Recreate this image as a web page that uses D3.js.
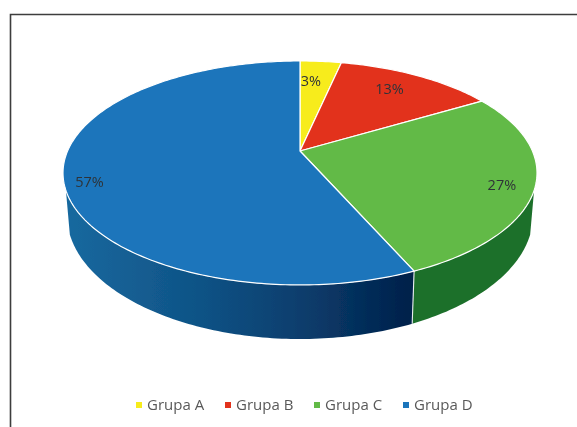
<!DOCTYPE html>
<html>
<head>
<meta charset="utf-8">
<script src="https://cdn.jsdelivr.net/npm/d3@7/dist/d3.min.js"></script>
<style>
html,body{margin:0;padding:0;background:#fff;overflow:hidden}
svg{display:block}
text{font-family:"Open Sans",sans-serif}
</style>
</head>
<body>
<svg id="chart" width="577" height="427"></svg>
<script>
const categories = ["Grupa A", "Grupa B", "Grupa C", "Grupa D"];
const values = [3.4, 13.1, 26.9, 56.6];
const colors = ["#f7ec1d", "#e2331f", "#62ba46", "#1b75bb"];
const sideColors = ["#a89f10", "#96200f", "#1d6f2b", "url(#blueSide)"];

const W = 577, H = 427;
const svg = d3.select("#chart").attr("viewBox", [0, 0, W, H]);
const defs = svg.append("defs");
const f = defs.append("filter").attr("id","soft").attr("x","-5%").attr("y","-5%").attr("width","110%").attr("height","110%");
f.append("feGaussianBlur").attr("stdDeviation",0.45);
const g = defs.append("linearGradient").attr("id","blueSide").attr("gradientUnits","userSpaceOnUse")
  .attr("x1",65).attr("x2",412).attr("y1",0).attr("y2",0);
[[0,"#17699f"],[0.4,"#0f5285"],[0.7,"#0a3c6b"],[1,"#00204a"]].forEach(s=>g.append("stop").attr("offset",s[0]).attr("stop-color",s[1]));

const root = svg.append("g").attr("filter","url(#soft)");

// frame
root.append("path").attr("d",`M${W},14.5H10.5V${H}`).attr("fill","none").attr("stroke","#3c3c3c").attr("stroke-width",1.6);

// perspective circle projection
const k = 0.196;
function projector(cy, A, B){
  return (a, r=1) => {
    const u = r*Math.sin(a), v = -r*Math.cos(a), d = 1-k*v;
    return [300 + A*u/d, cy + B*v/d];
  };
}
const topP = projector(151, 232.4, 107.7);
const botP = projector(191, 228.5, 119);

const pie = d3.pie().sort(null).startAngle(0).endAngle(2*Math.PI);
const arcs = pie(values);
const line = d3.line();
const samples = (a0,a1,P) => { const n = Math.max(2,Math.ceil((a1-a0)*60));
  return d3.range(n+1).map(i=>P(a0+(a1-a0)*i/n)); };

// front-facing limits of the wall
const wallMin = 110*Math.PI/180, wallMax = 250*Math.PI/180;

// walls
arcs.forEach((d,i)=>{
  const a0 = Math.max(d.startAngle,wallMin), a1 = Math.min(d.endAngle,wallMax);
  if(a1<=a0) return;
  const pts = samples(a0,a1,topP).concat(samples(a0,a1,botP).reverse());
  root.append("path").attr("d",line(pts)+"Z").attr("fill",sideColors[i]);
});
// seam
const seam = arcs[2].endAngle;
root.append("path").attr("d",line([topP(seam),botP(seam)])).attr("stroke","#e8eef0").attr("stroke-width",1.1).attr("fill","none");

// top slices
arcs.forEach((d,i)=>{
  const pts = [topP(0,0)].concat(samples(d.startAngle,d.endAngle,topP));
  root.append("path").attr("d",line(pts)+"Z").attr("fill",colors[i])
    .attr("stroke","#fff").attr("stroke-width",1.2).attr("stroke-linejoin","round");
});

// data labels
const labelR = [0.75,0.78,0.87,0.9], labelShift = [-2,-2,2,-6];
arcs.forEach((d,i)=>{
  const mid = (d.startAngle+d.endAngle)/2 + labelShift[i]*Math.PI/180;
  const p = topP(mid,labelR[i]);
  root.append("text").attr("x",p[0]).attr("y",p[1]+5)
    .attr("text-anchor","middle").attr("font-size",14.5).attr("fill","#2f3338")
    .text(d3.format(".0f")(d.value)+"%");
});

// legend
const lx = d3.scaleLinear().domain([0,3]).range([136,403]);
const item = root.selectAll(".leg").data(categories).join("g").attr("class","leg")
  .attr("transform",(d,i)=>`translate(${lx(i)},0)`);
item.append("rect").attr("x",0).attr("y",402).attr("width",6).attr("height",6).attr("fill",(d,i)=>colors[i]);
item.append("text").attr("x",11).attr("y",410).attr("font-size",15).attr("fill","#595959").text(d=>d);
</script>
</body>
</html>
